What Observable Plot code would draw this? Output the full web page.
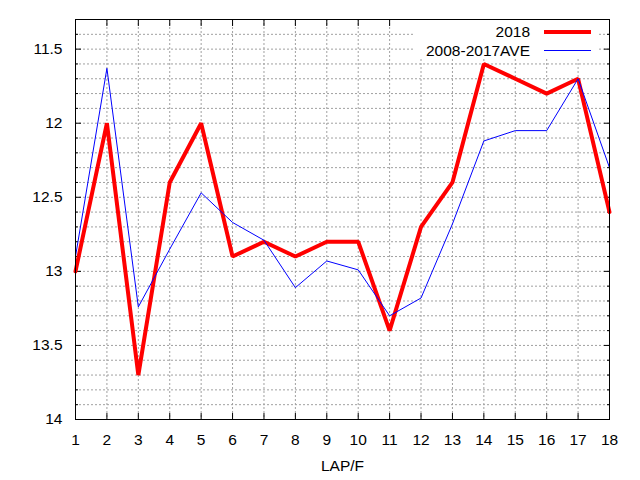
<!DOCTYPE html>
<html>
<head>
<meta charset="utf-8">
<script src="https://cdn.jsdelivr.net/npm/d3@7"></script>
<script src="https://cdn.jsdelivr.net/npm/@observablehq/plot@0.6"></script>
<style>
  html, body { margin: 0; padding: 0; background: #fff; }
  #wrap { position: relative; width: 640px; height: 480px; font-family: "Liberation Sans", Arial, sans-serif; }
  #legend { position: absolute; left: 413px; top: 20px; width: 185px; height: 38px; background: #fff; font-size: 15.5px; color: #000; }
  .ltext { position: absolute; right: 68px; line-height: 19px; white-space: nowrap; }
  .lline { position: absolute; left: 131px; width: 47px; }
</style>
</head>
<body>
<div id="wrap">
  <div id="chart"></div>
  <div id="legend">
    <div class="ltext" style="top:2px">2018</div>
    <div class="lline" style="top:10px;height:4px;background:#ff0000"></div>
    <div class="ltext" style="top:21px">2008-2017AVE</div>
    <div class="lline" style="top:30px;height:1px;background:#0000ff"></div>
  </div>
</div>
<script>
// Data
const laps = [1, 2, 3, 4, 5, 6, 7, 8, 9, 10, 11, 12, 13, 14, 15, 16, 17, 18];
const series2018 = [13.0, 12.0, 13.7, 12.4, 12.0, 12.9, 12.8, 12.9, 12.8, 12.8, 13.4, 12.7, 12.4, 11.6, 11.7, 11.8, 11.7, 12.6];
const seriesAve = [12.9, 11.63, 13.24, 12.85, 12.47, 12.67, 12.79, 13.11, 12.93, 12.99, 13.30, 13.18, 12.68, 12.12, 12.05, 12.05, 11.70, 12.30];
const yMajorTicks = [11.5, 12, 12.5, 13, 13.5, 14];
const yMinorTicks = [11.4, 11.6, 11.7, 11.8, 11.9, 12.1, 12.2, 12.3, 12.4, 12.6, 12.7, 12.8, 12.9, 13.1, 13.2, 13.3, 13.4, 13.6, 13.7, 13.8, 13.9];
const yGrid = [11.4, 11.5, 11.6, 11.7, 11.8, 11.9, 12, 12.1, 12.2, 12.3, 12.4, 12.5, 12.6, 12.7, 12.8, 12.9, 13, 13.1, 13.2, 13.3, 13.4, 13.5, 13.6, 13.7, 13.8, 13.9];
const xGrid = [2, 3, 4, 5, 6, 7, 8, 9, 10, 11, 12, 13, 14, 15, 16, 17];
const xLabel = "LAP/F";

const table = laps.map((lap, i) => ({lap, v2018: series2018[i], ave: seriesAve[i]}));

const gridStyle = {stroke: "#a0a0a0", strokeOpacity: 1, strokeWidth: 1, strokeDasharray: "2,2"};
const blank = () => "";

const chart = Plot.plot({
  width: 640,
  height: 480,
  marginLeft: 75,
  marginRight: 31,
  marginTop: 19,
  marginBottom: 61,
  style: {fontFamily: "'Liberation Sans', Arial, sans-serif", fontSize: "15px", background: "white", color: "black", overflow: "visible"},
  x: {domain: [1, 18]},
  y: {domain: [11.3, 14], reverse: true},
  marks: [
    Plot.gridY(yGrid, gridStyle),
    Plot.gridX(xGrid, gridStyle),
    // y tick labels
    Plot.axisY(yMajorTicks, {anchor: "left", tickSize: 0, tickPadding: 13, label: null, fontSize: 15.5, tickFormat: d => String(d)}),
    // x tick labels
    Plot.axisX(laps, {anchor: "bottom", tickSize: 0, tickPadding: 14, label: null, fontSize: 15.5, tickFormat: d => String(d)}),
    // inward tick marks
    Plot.axisY(yMajorTicks, {anchor: "left", tickSize: -6, tickFormat: blank, label: null, stroke: "black"}),
    Plot.axisY(yMajorTicks, {anchor: "right", tickSize: -6, tickFormat: blank, label: null, stroke: "black"}),
    Plot.axisY(yMinorTicks, {anchor: "left", tickSize: -3, tickFormat: blank, label: null, stroke: "black"}),
    Plot.axisY(yMinorTicks, {anchor: "right", tickSize: -3, tickFormat: blank, label: null, stroke: "black"}),
    Plot.axisX(laps, {anchor: "bottom", tickSize: -6, tickFormat: blank, label: null, stroke: "black"}),
    Plot.axisX(laps, {anchor: "top", tickSize: -6, tickFormat: blank, label: null, stroke: "black"}),
    Plot.line(table, {x: "lap", y: "v2018", stroke: "#ff0000", strokeWidth: 4, strokeLinejoin: "miter"}),
    Plot.line(table, {x: "lap", y: "ave", stroke: "#0000ff", strokeWidth: 1}),
    Plot.frame({stroke: "black", strokeWidth: 1}),
    Plot.text([xLabel], {frameAnchor: "bottom", lineAnchor: "middle", dy: 47, fontSize: 15.5, fill: "black"})
  ]
});
document.getElementById("chart").appendChild(chart);
</script>
</body>
</html>
